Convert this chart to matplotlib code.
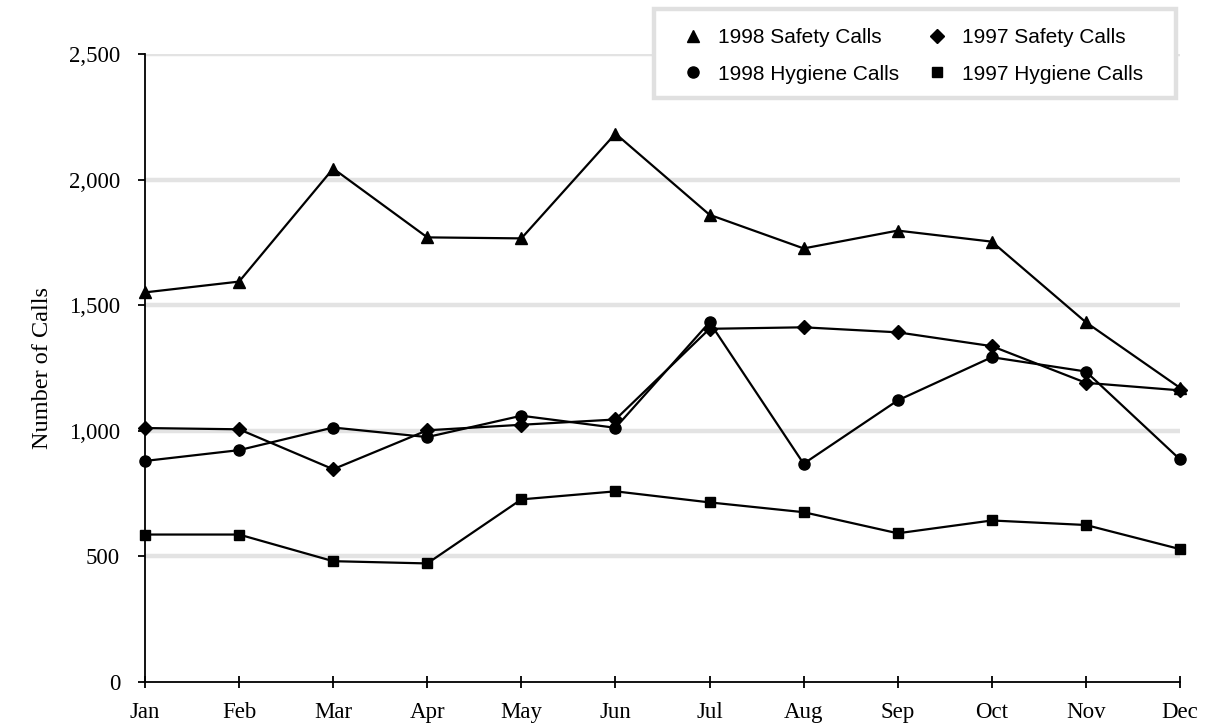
import matplotlib.pyplot as plt
from matplotlib.patches import Rectangle


# ---------- Data ----------
MONTHS = ["Jan", "Feb", "Mar", "Apr", "May", "Jun",
          "Jul", "Aug", "Sep", "Oct", "Nov", "Dec"]

SAFETY_1998 = [1551, 1594, 2044, 1770, 1766, 2183, 1860, 1726, 1797, 1753, 1432, 1171]
HYGIENE_1998 = [880, 923, 1013, 975, 1060, 1012, 1432, 869, 1121, 1293, 1236, 886]
SAFETY_1997 = [1011, 1006, 847, 1002, 1024, 1045, 1406, 1412, 1392, 1337, 1191, 1161]
HYGIENE_1997 = [587, 587, 481, 472, 727, 759, 715, 676, 592, 643, 625, 529]

Y_TICKS = [0, 500, 1000, 1500, 2000, 2500]

SERIF = ["Liberation Serif", "DejaVu Serif"]
SANS = ["Liberation Sans", "DejaVu Sans"]

W, H = 1209, 728


# ---------- Plot ----------
fig = plt.figure(figsize=(W / 100, H / 100), dpi=100)
ax = fig.add_axes([145 / W, 1 - 682 / H, (1180 - 145) / W, (682 - 54) / H])

x = list(range(len(MONTHS)))

for val in Y_TICKS[1:]:
    ax.axhline(val, color="#e3e3e3", lw=3.2, zorder=0)

series = [
    (SAFETY_1998, "^", 9, "1998 Safety Calls"),
    (HYGIENE_1998, "o", 8, "1998 Hygiene Calls"),
    (SAFETY_1997, "D", 7, "1997 Safety Calls"),
    (HYGIENE_1997, "s", 7, "1997 Hygiene Calls"),
]
handles = []
for vals, marker, ms, label in series:
    line, = ax.plot(x, vals, color="black", lw=1.6, marker=marker,
                    markersize=ms, label=label, clip_on=False, zorder=3)
    handles.append(line)

ax.set_xlim(0, 11)
ax.set_ylim(0, 2500)
ax.set_xticks(x)
ax.set_xticklabels(MONTHS, family=SERIF, fontsize=16.5)
ax.set_yticks(Y_TICKS)
ax.set_yticklabels([f"{v:,}" for v in Y_TICKS], family=SERIF, fontsize=16.5)
ax.tick_params(axis="x", direction="inout", length=9, width=1.3, pad=10)
ax.tick_params(axis="y", direction="out", length=5, width=1.3, pad=13)

for side in ["top", "right"]:
    ax.spines[side].set_visible(False)
for side in ["left", "bottom"]:
    ax.spines[side].set_linewidth(1.3)

ax.set_ylabel("Number of Calls", family=SERIF, fontsize=17.5, labelpad=11)

# legend box drawn separately so the padding can differ per side
fig.patches.append(Rectangle((654 / W, 1 - 98 / H), (1176 - 654) / W, (98 - 9) / H,
                             transform=fig.transFigure, facecolor="white",
                             edgecolor="#e0e0e0", lw=3.2, zorder=5))

leg = fig.legend(handles=handles, ncol=2, loc="upper left",
                 bbox_to_anchor=(685 / W, 1 - 28 / H), frameon=False,
                 prop={"family": SANS, "size": 15}, handlelength=0.8,
                 handletextpad=0.8, columnspacing=1.38, borderpad=0,
                 labelspacing=0.85, borderaxespad=0)
leg.set_zorder(6)
for h in leg.legend_handles:
    h.set_linestyle("none")

fig.savefig("out.png", dpi=100)
